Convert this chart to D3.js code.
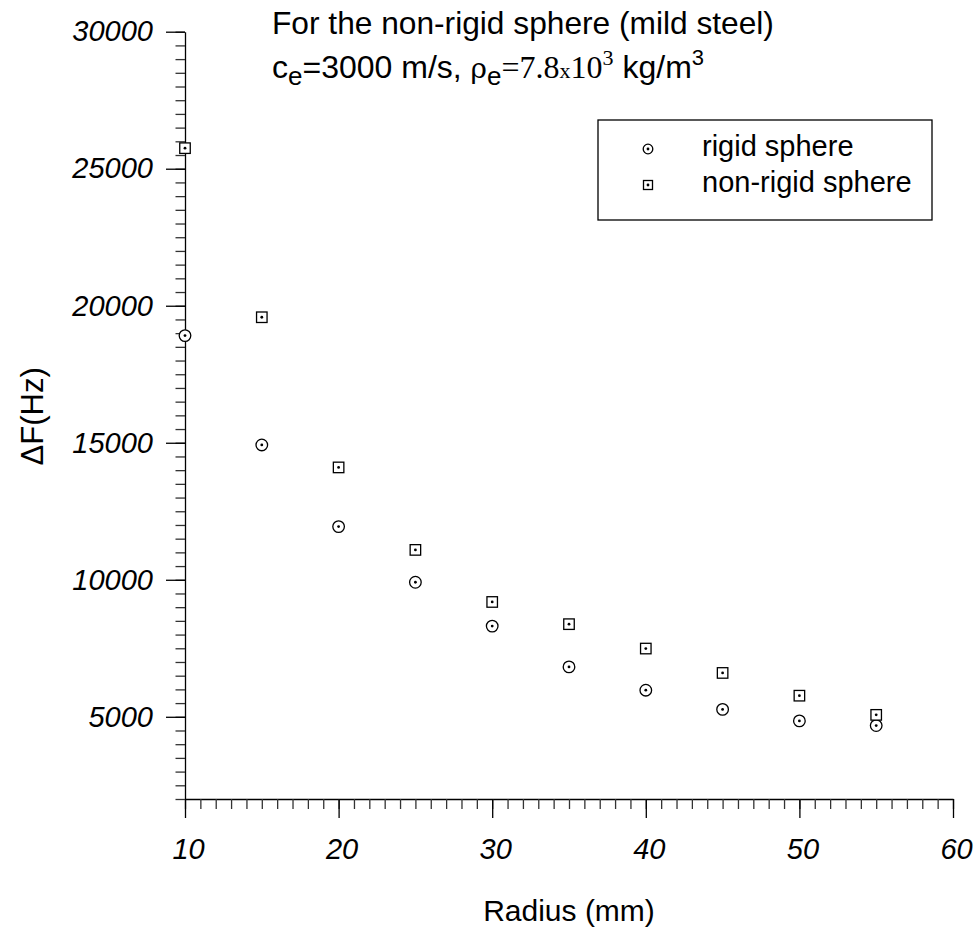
<!DOCTYPE html>
<html>
<head>
<meta charset="utf-8">
<script src="https://cdn.jsdelivr.net/npm/d3@7"></script>
<style>
  html, body { margin: 0; padding: 0; background: #fff; }
  svg { display: block; }
  text { font-family: "Liberation Sans", Arial, sans-serif; fill: #000; }
</style>
</head>
<body>
<svg id="chart" width="977" height="928"></svg>
<script>
// ---- data ----
const radius   = [10, 15, 20, 25, 30, 35, 40, 45, 50, 55];
const rigid    = [18910, 14920, 11940, 9910, 8310, 6820, 5970, 5270, 4850, 4680];
const nonRigid = [25750, 19580, 14100, 11090, 9190, 8380, 7490, 6600, 5770, 5070];
const xTickLabels = [10, 20, 30, 40, 50, 60];
const yTickLabels = [5000, 10000, 15000, 20000, 25000, 30000];
const seriesNames = ["rigid sphere", "non-rigid sphere"];

const svg = d3.select("#chart");
const x = d3.scaleLinear().domain([10, 60]).range([185, 953]);
const y = d3.scaleLinear().domain([2000, 30000]).range([799, 31.7]);

const ink = "#000";
const sw = 1.3;

// ---- x axis ----
const xMinor = d3.range(10, 60.01, 1);
svg.append("g").attr("transform", `translate(0,${y(2000)})`)
  .call(d3.axisBottom(x).tickValues(xMinor).tickSize(10).tickSizeOuter(0).tickFormat(""))
  .call(g => { g.select(".domain").attr("stroke", ink).attr("stroke-width", sw);
               g.selectAll(".tick line").attr("stroke", "#333").attr("stroke-width", sw); });
svg.append("g").attr("transform", `translate(0,${y(2000)})`)
  .call(d3.axisBottom(x).tickValues(xTickLabels).tickSize(19).tickSizeOuter(0).tickPadding(20))
  .call(g => { g.select(".domain").remove();
               g.selectAll(".tick line").attr("stroke", ink).attr("stroke-width", sw);
               g.selectAll(".tick text").attr("font-size", 29).attr("font-style", "italic")
                 .attr("font-family", "Liberation Sans, Arial, sans-serif").attr("fill", ink)
                 .attr("dx", 3); });

// ---- y axis ----
const yMinor = d3.range(2000, 30001, 500);
svg.append("g").attr("transform", `translate(${x(10)},0)`)
  .call(d3.axisLeft(y).tickValues(yMinor).tickSize(9.5).tickSizeOuter(0).tickFormat(""))
  .call(g => { g.select(".domain").attr("stroke", ink).attr("stroke-width", sw);
               g.selectAll(".tick line").attr("stroke", "#333").attr("stroke-width", sw); });
svg.append("g").attr("transform", `translate(${x(10)},0)`)
  .call(d3.axisLeft(y).tickValues(yTickLabels).tickSize(19).tickSizeOuter(0).tickPadding(13).tickFormat(d3.format("d")))
  .call(g => { g.select(".domain").remove();
               g.selectAll(".tick line").attr("stroke", ink).attr("stroke-width", sw);
               g.selectAll(".tick text").attr("font-size", 29).attr("font-style", "italic")
                 .attr("font-family", "Liberation Sans, Arial, sans-serif").attr("fill", ink); });

// ---- axis titles ----
svg.append("text").attr("x", (x(10) + x(60)) / 2).attr("y", 921)
  .attr("text-anchor", "middle").attr("font-size", 30).text("Radius (mm)");
svg.append("text").attr("transform", `translate(43,${(y(2000) + y(30000)) / 2 + 1}) rotate(-90)`)
  .attr("text-anchor", "middle").attr("font-size", 31).text("ΔF(Hz)");

// ---- markers ----
function circleMark(g, cx, cy, r) {
  g.append("circle").attr("cx", cx).attr("cy", cy).attr("r", r)
    .attr("fill", "#fff").attr("stroke", ink).attr("stroke-width", sw);
  g.append("circle").attr("cx", cx).attr("cy", cy).attr("r", 1.4).attr("fill", ink);
}
function squareMark(g, cx, cy, s) {
  g.append("rect").attr("x", cx - s / 2).attr("y", cy - s / 2).attr("width", s).attr("height", s)
    .attr("fill", "#fff").attr("stroke", ink).attr("stroke-width", sw);
  g.append("circle").attr("cx", cx).attr("cy", cy).attr("r", 1.4).attr("fill", ink);
}

const gRigid = svg.append("g");
radius.forEach((r, i) => circleMark(gRigid, x(r), y(rigid[i]), 5.8));
const gNon = svg.append("g");
radius.forEach((r, i) => squareMark(gNon, x(r), y(nonRigid[i]), 10.5));

// ---- legend ----
const lg = svg.append("g");
lg.append("rect").attr("x", 598).attr("y", 120).attr("width", 334).attr("height", 100)
  .attr("fill", "#fff").attr("stroke", ink).attr("stroke-width", sw);
circleMark(lg, 648, 149, 4.8);
squareMark(lg, 648, 185, 9);
lg.append("text").attr("x", 702).attr("y", 156).attr("font-size", 29).text(seriesNames[0]);
lg.append("text").attr("x", 702).attr("y", 192).attr("font-size", 29).text(seriesNames[1]);

// ---- title ----
svg.append("text").attr("x", 272).attr("y", 34).attr("font-size", 31.7)
  .text("For the non-rigid sphere (mild steel)");
const t2 = svg.append("text").attr("x", 272).attr("y", 78).attr("font-size", 32);
t2.append("tspan").text("c");
t2.append("tspan").attr("font-size", 26).attr("dy", 7).text("e");
t2.append("tspan").attr("dy", -7).text("=3000 m/s, ");
t2.append("tspan").attr("font-family", "DejaVu Serif, serif").attr("font-size", 28).text("ρ");
t2.append("tspan").attr("font-size", 26).attr("dy", 7).text("e");
t2.append("tspan").attr("dy", -7).attr("font-family", "Liberation Serif, Times New Roman, serif").text("=7.8");
t2.append("tspan").attr("font-family", "Liberation Serif, Times New Roman, serif").attr("font-size", 22).text("x");
t2.append("tspan").attr("font-family", "Liberation Serif, Times New Roman, serif").text("10");
t2.append("tspan").attr("font-family", "Liberation Serif, Times New Roman, serif").attr("font-size", 22).attr("dy", -13).text("3");
t2.append("tspan").attr("dy", 13).text(" kg/m");
t2.append("tspan").attr("font-size", 22).attr("dy", -13).text("3");
</script>
</body>
</html>
